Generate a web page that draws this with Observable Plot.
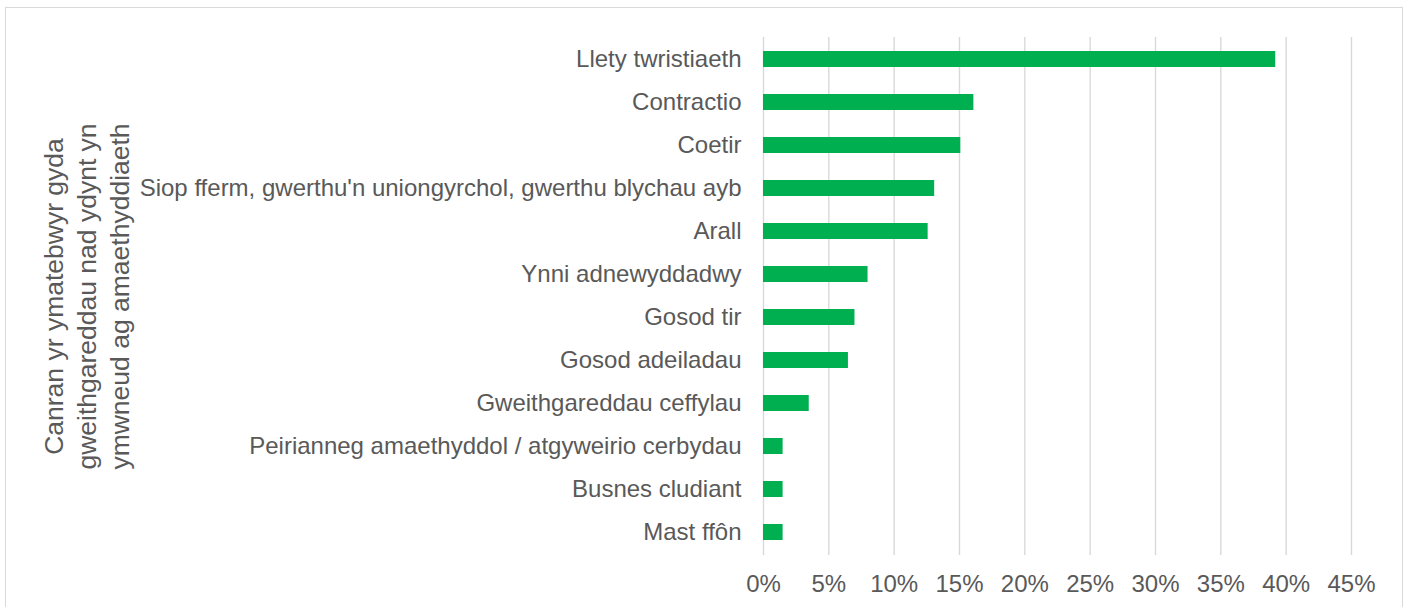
<!DOCTYPE html>
<html>
<head>
<meta charset="utf-8">
<script src="https://cdn.jsdelivr.net/npm/d3@7"></script>
<script src="https://cdn.jsdelivr.net/npm/@observablehq/plot@0.6"></script>
<style>
  html, body { margin: 0; padding: 0; background: #fff; overflow: hidden; }
  #wrap { position: relative; width: 1409px; height: 607px; }
  #border { position: absolute; left: 5px; top: 7px; width: 1398px; height: 640px; border: 1px solid #d9d9d9; box-sizing: border-box; }
  #chart { position: absolute; left: 0; top: 0; }
</style>
</head>
<body>
<div id="wrap"><div id="border"></div><div id="chart"></div></div>
<script>
const categories = [
  "Llety twristiaeth",
  "Contractio",
  "Coetir",
  "Siop fferm, gwerthu'n uniongyrchol, gwerthu blychau ayb",
  "Arall",
  "Ynni adnewyddadwy",
  "Gosod tir",
  "Gosod adeiladau",
  "Gweithgareddau ceffylau",
  "Peirianneg amaethyddol / atgyweirio cerbydau",
  "Busnes cludiant",
  "Mast ffôn"
];
const values = [0.392, 0.161, 0.151, 0.131, 0.126, 0.080, 0.070, 0.065, 0.035, 0.015, 0.015, 0.015];
const xTicks = [0, 0.05, 0.10, 0.15, 0.20, 0.25, 0.30, 0.35, 0.40, 0.45];
const yTitle = "Canran yr ymatebwyr gyda\ngweithgareddau nad ydynt yn\nymwneud ag amaethyddiaeth";

const data = categories.map((c, i) => ({category: c, value: values[i]}));
const textColor = "#595959";
const fontFamily = "'Liberation Sans', Arial, sans-serif";

const chart = Plot.plot({
  width: 1409,
  height: 607,
  marginLeft: 763,
  marginRight: 58,
  marginTop: 37,
  marginBottom: 52,
  style: {fontFamily, fontSize: "24px", color: textColor, background: "transparent"},
  x: {domain: [0, 0.45], ticks: xTicks, tickFormat: d3.format(".0%")},
  y: {domain: categories, paddingInner: 0.62, paddingOuter: 0.31},
  marks: [
    Plot.gridX(xTicks, {stroke: "#d9d9d9", strokeOpacity: 1, strokeWidth: 1.4}),
    Plot.barX(data, {x: "value", y: "category", fill: "#00B050"}),
    Plot.axisX({ticks: xTicks, tickFormat: d3.format(".0%"), tickSize: 0, tickPadding: 19, label: null, fill: textColor, fontSize: 24}),
    Plot.axisY({tickSize: 0, tickPadding: 22, label: null, fill: textColor, fontSize: 24}),
    Plot.text([yTitle], {text: d => d, frameAnchor: "left", textAnchor: "middle", rotate: -90, dx: 85 - 763, dy: 0, lineHeight: 1.24, fontSize: 26.5, fill: textColor})
  ]
});
document.getElementById("chart").appendChild(chart);
</script>
</body>
</html>
